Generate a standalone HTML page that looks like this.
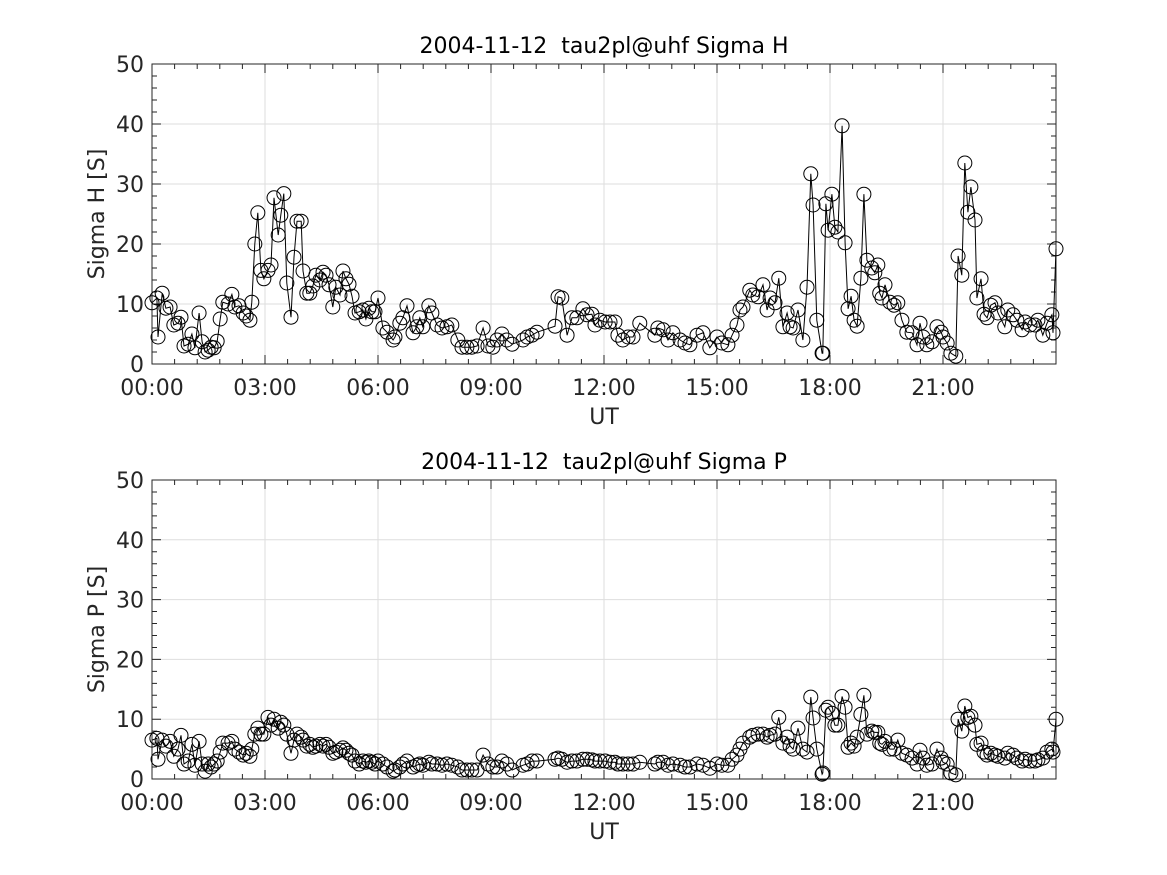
<!DOCTYPE html>
<html><head><meta charset="utf-8"><style>
html,body{margin:0;padding:0;background:#fff;}
svg{display:block;font-family:"DejaVu Sans","Liberation Sans",sans-serif;}
.pre{white-space:pre;}
</style></head><body>
<svg id="fig" width="1167" height="875" viewBox="0 0 1167 875" xmlns="http://www.w3.org/2000/svg"></svg>
<script>
const times=[0.00,0.13,0.16,0.27,0.37,0.48,0.58,0.69,0.77,0.85,0.96,1.06,1.14,1.25,1.33,1.41,1.49,1.57,1.65,1.73,1.81,1.88,2.02,2.12,2.20,2.31,2.42,2.50,2.60,2.65,2.73,2.81,2.89,2.97,3.08,3.16,3.24,3.35,3.42,3.50,3.58,3.69,3.77,3.85,3.96,4.01,4.11,4.19,4.27,4.35,4.46,4.54,4.62,4.70,4.80,4.88,4.99,5.07,5.15,5.23,5.31,5.39,5.50,5.60,5.68,5.76,5.84,5.92,6.00,6.13,6.24,6.40,6.45,6.58,6.66,6.77,6.93,7.03,7.11,7.19,7.35,7.43,7.57,7.70,7.83,7.96,8.12,8.23,8.36,8.49,8.63,8.79,8.92,9.05,9.16,9.29,9.42,9.56,9.85,9.96,10.09,10.22,10.70,10.78,10.88,11.02,11.15,11.28,11.44,11.55,11.68,11.76,11.89,12.03,12.16,12.29,12.37,12.50,12.64,12.77,12.95,13.35,13.43,13.57,13.70,13.83,14.02,14.15,14.28,14.47,14.63,14.81,15.00,15.13,15.29,15.40,15.53,15.61,15.69,15.87,15.95,16.09,16.22,16.33,16.41,16.54,16.64,16.75,16.86,16.94,17.02,17.15,17.28,17.39,17.49,17.55,17.65,17.79,17.81,17.89,17.95,18.05,18.13,18.21,18.32,18.40,18.48,18.56,18.64,18.72,18.82,18.90,18.98,19.11,19.19,19.27,19.32,19.38,19.46,19.59,19.70,19.80,19.91,20.04,20.18,20.31,20.39,20.47,20.57,20.71,20.84,20.95,21.00,21.11,21.21,21.34,21.40,21.50,21.58,21.66,21.74,21.85,21.90,22.01,22.09,22.17,22.27,22.38,22.46,22.64,22.72,22.86,22.96,23.10,23.18,23.31,23.44,23.52,23.65,23.76,23.89,23.92,24.00];
const sigmaH=[10.2,11,4.5,11.8,9.3,9.5,6.5,6.8,7.8,3.0,3.3,5,2.7,8.5,3.7,2,2.3,2.8,2.7,3.8,7.5,10.3,10,11.6,9.5,9.7,8.5,8,7.3,10.3,20,25.2,15.6,14.2,15.6,16.5,27.7,21.5,24.8,28.4,13.5,7.8,17.8,23.8,23.8,15.5,11.8,11.8,13,14.8,14,15.3,14.8,13.2,9.5,12.8,11.5,15.5,14.2,13.3,11.3,8.5,8.7,9,7.5,9.3,8.7,8.7,11,6,5.3,4,4.5,6.8,7.7,9.7,5.2,6.2,7.7,6.2,9.7,8.5,6.5,6,6.2,6.5,4,2.8,2.8,2.8,3,6,3,2.8,4,5,4,3.3,4,4.5,4.8,5.3,6.3,11.2,11,4.8,7.7,7.7,9.2,8.2,8.3,6.5,7.3,7,7,7,4.8,4,4.5,4.5,6.8,4.8,6,5.7,4,5.2,4,3.5,3.2,4.8,5.2,2.7,4.5,3.5,3.2,4.8,6.5,9,9.5,12.3,11.5,11.2,13.2,9,11,10.2,14.3,6.2,8.5,6.2,6,9,4,12.8,31.7,26.5,7.3,1.8,1.8,26.7,22.3,28.3,22.8,22,39.7,20.2,9.2,11.3,7.3,6.3,14.3,28.3,17.3,16,15.2,16.5,11.8,11,13.2,10.3,9.8,10.2,7.3,5.3,5.2,3.2,6.8,4.5,3.2,3.7,6.2,5.3,4.5,3.5,1.8,1.3,18,14.8,33.5,25.3,29.5,24,11,14.2,8.3,7.7,9.8,10.2,8.5,6.2,9,8.2,7.3,5.7,7,6.5,6.5,7.3,4.8,6.8,8.2,5.2,19.2];
const sigmaP=[6.5,6.8,3.3,6.5,5.5,6.3,3.8,5,7.3,2.5,3,5.8,2.3,6.3,2.5,1.3,2.5,2,2.5,3,4.5,6,6,6.3,5,4.5,4,4.3,3.8,5,7.5,8.5,7.5,7.5,10.3,9,10,8.5,9.5,9,7.5,4.3,6.5,7.5,7,6.5,5.5,5.8,5.3,5.5,5.8,5.5,5.8,5.3,4.3,4.5,4.8,5.2,4.8,4.3,4,3,2.5,3,2.8,3,2.8,2.5,3,2.5,2,1.3,1.5,2,2.5,3,2,2.3,2.5,2.3,2.8,2.5,2.5,2.3,2.5,2.3,2,1.5,1.5,1.5,1.5,4,2.5,2,2,3,2.5,1.5,2.3,2.5,3,3,3.3,3.5,3.3,2.8,3,3,3.3,3.3,3.2,3,3,3,2.8,2.8,2.5,2.5,2.5,2.5,2.8,2.5,2.8,2.8,2.3,2.5,2.3,2,2,2.5,2.3,1.8,2.5,2.3,2.3,3.3,4,5,6,7,7.3,7.5,7.5,7,7.3,7.5,10.3,6,7,5.5,5,8.5,5,4.5,13.7,10.2,5,0.8,1,11.5,12,11,9,9,13.8,12,5.3,6,5.5,7,10.8,14,7.5,8,7.8,7.8,6,5.8,6.3,5,5,6.5,4.3,4,3.5,2.5,4.8,3.5,2.3,2.5,5,3.5,2.8,2.5,1,0.7,10,8,12.2,10.3,10.5,9,5.8,6,4.5,4,4.3,4,3.8,3.5,4.3,4,3.5,3,3.3,3,3,3.2,3.5,4.5,5,4.5,10];
const xTickLabels=["00:00","03:00","06:00","09:00","12:00","15:00","18:00","21:00"];
const yTickLabels=["0","10","20","30","40","50"];

const NS="http://www.w3.org/2000/svg";
const fig=document.getElementById('fig');
function mk(tag,attrs,parent){const e=document.createElementNS(NS,tag);for(const k in attrs)e.setAttribute(k,attrs[k]);(parent||fig).appendChild(e);return e;}

function panel(id,top,bottom,title,ylabel,values){
  const L=152,R=1056;
  const xs=h=>L+(R-L)*h/24;
  const ys=v=>bottom-(bottom-top)*v/50;
  const g=mk('g',{});
  
  
  for(let i=1;i<8;i++){const l=mk('line',{x1:xs(i*3),x2:xs(i*3),y1:top,y2:bottom,stroke:'#dedede','stroke-width':1},g);
    }
  for(let i=1;i<5;i++){const l=mk('line',{x1:L,x2:R,y1:ys(i*10),y2:ys(i*10),stroke:'#dedede','stroke-width':1},g);
    }
  let d='';
  for(let m=0;m<=40;m++){const x=xs(m*0.6);const len=(m%5===0)?9:5;d+=`M${x},${bottom}v${-len}M${x},${top}v${len}`;}
  for(let v=0;v<=50;v+=2){const y=ys(v);const len=(v%10===0)?9:5;d+=`M${L},${y}h${len}M${R},${y}h${-len}`;}
  const tk=mk('path',{d:d,stroke:'#262626','stroke-width':1,fill:'none'},g);
  
  const box=mk('rect',{x:L,y:top,width:R-L,height:bottom-top,fill:'none',stroke:'#262626','stroke-width':1},g);
  
  xTickLabels.forEach((t,i)=>{const e=mk('text',{x:xs(i*3),y:bottom+31,'text-anchor':'middle','font-size':22,fill:'#262626'},g);e.textContent=t;
    });
  yTickLabels.forEach((t,i)=>{const e=mk('text',{x:L-8,y:ys(i*10)+8,'text-anchor':'end','font-size':22,fill:'#262626'},g);e.textContent=t;
    });
  const tt=mk('text',{x:(L+R)/2,y:top-11,'text-anchor':'middle','font-size':22,fill:'#000','class':'pre',style:'white-space:pre'},g);tt.textContent=title;
  
  const xl=mk('text',{x:(L+R)/2,y:bottom+60,'text-anchor':'middle','font-size':22,fill:'#262626'},g);xl.textContent='UT';
  
  const cy=(top+bottom)/2;
  const yl=mk('text',{x:104,y:cy,'text-anchor':'middle','font-size':22,fill:'#262626',transform:`rotate(-90 104 ${cy})`},g);yl.textContent=ylabel;
  
  const pts=times.map((t,i)=>xs(t).toFixed(1)+','+ys(values[i]).toFixed(1)).join(' ');
  const pl=mk('polyline',{points:pts,fill:'none',stroke:'#000','stroke-width':1},g);
  
  times.forEach((t,i)=>{const c=mk('circle',{cx:xs(t),cy:ys(values[i]),r:7,fill:'none',stroke:'#000','stroke-width':1},g);
    });
}
panel('sigma-h',64,364,'2004-11-12  tau2pl@uhf Sigma H','Sigma H [S]',sigmaH);
panel('sigma-p',480,779,'2004-11-12  tau2pl@uhf Sigma P','Sigma P [S]',sigmaP);
</script>
</body></html>
